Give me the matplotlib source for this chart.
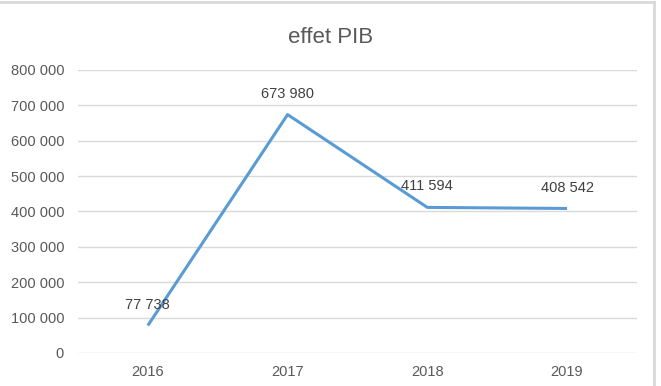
import matplotlib
matplotlib.use("Agg")
import matplotlib.pyplot as plt
from matplotlib.lines import Line2D
from matplotlib.ticker import FuncFormatter

years = ["2016", "2017", "2018", "2019"]
values = [77738, 673980, 411594, 408542]
yticks = [0, 100000, 200000, 300000, 400000, 500000, 600000, 700000, 800000]

def fmt(v):
    return f"{int(v):,}".replace(",", " ")

plt.rcParams['font.family'] = ['Liberation Sans', 'DejaVu Sans']
txt = '#595959'

fig = plt.figure(figsize=(6.61, 3.86), dpi=100)
ax = fig.add_axes([0.118, 0.0855, 0.8455, 0.7332])

x = list(range(len(years)))
ax.plot(x, values, color='#5B9BD5', linewidth=2.2, solid_capstyle='butt', zorder=3)
for xi, v in zip(x, values):
    ax.annotate(fmt(v), (xi, v), xytext=(0, 10), textcoords='offset points',
                ha='center', va='bottom', fontsize=10.5, color='#404040', zorder=4)

ax.set_xlim(-0.5, len(years) - 0.5)
ax.set_ylim(0, 800000)
ax.set_xticks(x)
ax.set_xticklabels(years)
ax.set_yticks(yticks)
ax.yaxis.set_major_formatter(FuncFormatter(lambda v, p: fmt(v)))
ax.tick_params(axis='both', length=0, labelsize=10.5, labelcolor=txt)
ax.tick_params(axis='y', pad=10)
ax.tick_params(axis='x', pad=9)
ax.grid(axis='y', color='#D9D9D9', linewidth=1.0)
ax.set_axisbelow(True)
for s in ax.spines.values():
    s.set_visible(False)

fig.text(0.50, 0.902, "effet PIB", ha='center', va='center', fontsize=16, color=txt)

# outer chart frame (top and right edges visible)
fig.add_artist(Line2D([0, 0.990], [0.994, 0.994], transform=fig.transFigure, color='#D9D9D9', linewidth=2))
fig.add_artist(Line2D([0.990, 0.990], [0, 0.994], transform=fig.transFigure, color='#D9D9D9', linewidth=2))

fig.savefig("out.png", dpi=100)
